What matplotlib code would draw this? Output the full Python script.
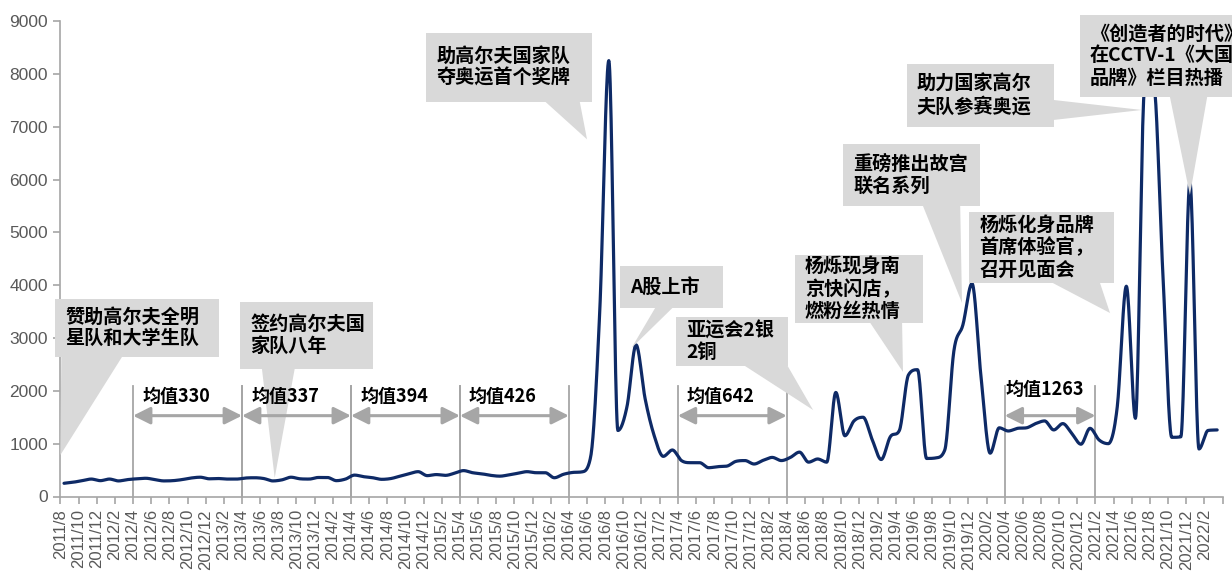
import numpy as np
import pandas as pd
import matplotlib
matplotlib.use('Agg')
import matplotlib.pyplot as plt
from matplotlib.patches import Polygon, Rectangle

plt.rcParams['font.family'] = ['Noto Sans CJK SC', 'DejaVu Sans']

# monthly index, 2011/8 - 2022/3
months = pd.period_range('2011-08', '2022-03', freq='M')
month_labels = [f'{p.year}/{p.month}' for p in months]

search_index = [
    250, 270, 300, 330, 300, 330, 295, 320,                          # 2011/8-2012/3
    335, 345, 320, 295, 300, 320, 350, 365, 335, 340, 330, 330,      # 2012/4-2013/3
    350, 355, 340, 295, 315, 365, 335, 330, 360, 360, 300, 330,      # 2013/4-2014/3
    405, 375, 355, 325, 340, 385, 430, 470, 395, 415, 400, 440,      # 2014/4-2015/3
    490, 450, 430, 400, 385, 410, 440, 470, 450, 450, 355, 420,      # 2015/4-2016/3
    455, 465, 750, 3500, 8250, 1250, 1700, 2870, 1850, 1150, 760, 880,  # 2016/4-2017/3
    680, 640, 640, 545, 565, 575, 665, 680, 615, 685, 740, 680,      # 2017/4-2018/3
    740, 840, 650, 710, 650, 1970, 1150, 1430, 1500, 1080, 700, 1130,  # 2018/4-2019/3
    1250, 2300, 2400, 720, 730, 880, 2750, 3250, 4030, 2250, 820, 1300,  # 2019/4-2020/3
    1240, 1290, 1300, 1380, 1430, 1260, 1380, 1190, 990, 1290,       # 2020/4-2021/1
    1070, 1000, 1700, 3980, 1480, 7700, 7800, 4300, 1120, 1130, 5950, 900,  # 2021/2-2022/1
    1250, 1260,                                                      # 2022/2-2022/3
]

mean_start = ['2012/4', '2013/4', '2014/4', '2015/4', '2017/4', '2020/4']
mean_end = ['2013/4', '2014/4', '2015/4', '2016/4', '2018/4', '2021/2']
mean_vals = [330, 337, 394, 426, 642, 1263]

event_texts = [
    '赞助高尔夫全明\n星队和大学生队',
    '签约高尔夫国\n家队八年',
    '助高尔夫国家队\n夺奥运首个奖牌',
    'A股上市',
    '亚运会2银\n2铜',
    '杨烁现身南\n京快闪店，\n燃粉丝热情',
    '重磅推出故宫\n联名系列',
    '助力国家高尔\n夫队参赛奥运',
    '杨烁化身品牌\n首席体验官，\n召开见面会',
    '《创造者的时代》\n在CCTV-1《大国\n品牌》栏目热播',
]

# callout layout: box (x0, x1, ybottom, ytop), wedge base points, wedge tip
callout_box = [
    (-0.6, 17.5, 2646, 3739), (19.8, 34.4, 2413, 3682), (40.3, 58.6, 7473, 8774),
    (61.6, 73.0, 3568, 4363), (67.8, 80.1, 2470, 3398), (80.9, 95.0, 3284, 4571),
    (86.2, 101.3, 5499, 6672), (93.2, 109.4, 6994, 8187), (100.1, 116.0, 4041, 5385),
    (112.3, 129.5, 7562, 9114),
]
callout_base = [
    ((0.1, 2646), (6.8, 2646)), ((22.2, 2413), (25.8, 2413)), ((53.4, 7473), (57.2, 7473)),
    ((65.5, 3568), (67.4, 3568)), ((75.4, 2470), (80.1, 2470)), ((89.2, 3284), (92.7, 3284)),
    ((95.0, 5499), (99.1, 5499)), ((109.4, 7505), (109.4, 7127)), ((109.3, 4041), (114.5, 4041)),
    ((122.2, 7562), (126.3, 7562)),
]
callout_tip = [
    (0.0, 786), (23.6, 350), (58.0, 6760), (62.9, 2811), (82.9, 1637),
    (92.8, 2357), (99.3, 3663), (119.1, 7316), (115.6, 3473), (124.4, 5707),
]


def smooth(x, y, n=20):
    # cubic Hermite through the points, Catmull-Rom tangents limited so that
    # extremes stay on the data points (no overshoot)
    y = np.asarray(y, float)
    x = np.asarray(x, float)
    d = np.diff(y)
    m = np.zeros_like(y)
    m[0], m[-1] = d[0], d[-1]
    for k in range(1, len(y) - 1):
        if d[k - 1] * d[k] <= 0:
            m[k] = 0.0
        else:
            cr = (d[k - 1] + d[k]) / 2
            lim = 3 * min(abs(d[k - 1]), abs(d[k]))
            m[k] = np.sign(cr) * min(abs(cr), lim)
    t = np.linspace(0, 1, n, endpoint=False)
    h00 = 2 * t ** 3 - 3 * t ** 2 + 1
    h10 = t ** 3 - 2 * t ** 2 + t
    h01 = -2 * t ** 3 + 3 * t ** 2
    h11 = t ** 3 - t ** 2
    xs, ys = [], []
    for k in range(len(y) - 1):
        xs.append(x[k] + t * (x[k + 1] - x[k]))
        ys.append(h00 * y[k] + h10 * m[k] + h01 * y[k + 1] + h11 * m[k + 1])
    xs.append([x[-1]])
    ys.append([y[-1]])
    return np.concatenate(xs), np.concatenate(ys)


W, H = 1232, 571
fig = plt.figure(figsize=(W / 100, H / 100), dpi=100)
ax = fig.add_axes([60.4 / W, 1 - 496.5 / H, (1222.6 - 60.4) / W, (496.5 - 21) / H])

pos = {lab: i for i, lab in enumerate(month_labels)}
xdata = np.arange(len(search_index)) + 0.4
sx, sy = smooth(xdata, search_index)
ax.plot(sx, sy, color='#0E2A66', lw=2.3, zorder=2, solid_capstyle='round')

gray = '#A6A6A6'
# period separators + mean arrows
for s, e, m in zip(mean_start, mean_end, mean_vals):
    x0, x1 = pos[s], pos[e]
    for xv in (x0, x1):
        ax.plot([xv, xv], [0, 2100], color=gray, lw=1.3, zorder=1)
    ax.annotate('', xy=(x1, 1530), xytext=(x0, 1530),
                arrowprops=dict(arrowstyle='<|-|>,head_length=0.4,head_width=0.2',
                                color=gray, lw=2.2, mutation_scale=26,
                                shrinkA=0, shrinkB=0), zorder=5)
    if m == 1263:
        ax.text(x0 + 0.1, 2020, f'均值{m}', fontsize=13, fontweight='bold',
                ha='left', va='center', zorder=6)
    else:
        ax.text(x0 + 1.0, 1890, f'均值{m}', fontsize=13, fontweight='bold',
                ha='left', va='center', zorder=6)

# callouts
box_color = '#D9D9D9'
for txt, (bx0, bx1, by0, by1), (b1, b2), tip in zip(event_texts, callout_box,
                                                      callout_base, callout_tip):
    ax.add_patch(Rectangle((bx0, by0), bx1 - bx0, by1 - by0, facecolor=box_color,
                           edgecolor='none', clip_on=False, zorder=3))
    ax.add_patch(Polygon([b1, b2, tip], closed=True, facecolor=box_color,
                         edgecolor='none', clip_on=False, zorder=3))
    ax.text(bx0 + 1.1, (by0 + by1) / 2, txt, fontsize=13.8, fontweight='bold',
            ha='left', va='center', linespacing=1.2, zorder=4, clip_on=False)

ax.set_xlim(0, 128)
ax.set_ylim(0, 9000)
ax.set_yticks(range(0, 9001, 1000))
ax.set_xticks(range(0, 129, 2))
ax.set_xticklabels([month_labels[i] if i < len(month_labels) else '' for i in range(0, 129, 2)],
                   rotation=90, family='Liberation Sans', fontsize=12)
for lbl in ax.get_yticklabels():
    lbl.set_family('Liberation Sans')
    lbl.set_fontsize(12.5)

for sp in ('top', 'right'):
    ax.spines[sp].set_visible(False)
for sp in ('left', 'bottom'):
    ax.spines[sp].set_color(gray)
    ax.spines[sp].set_linewidth(1.2)
ax.tick_params(axis='both', colors=gray, labelcolor='#595959', length=5, width=1.2)
ax.tick_params(axis='y', pad=4)
ax.tick_params(axis='x', pad=4)

fig.savefig('out.png', dpi=100)
